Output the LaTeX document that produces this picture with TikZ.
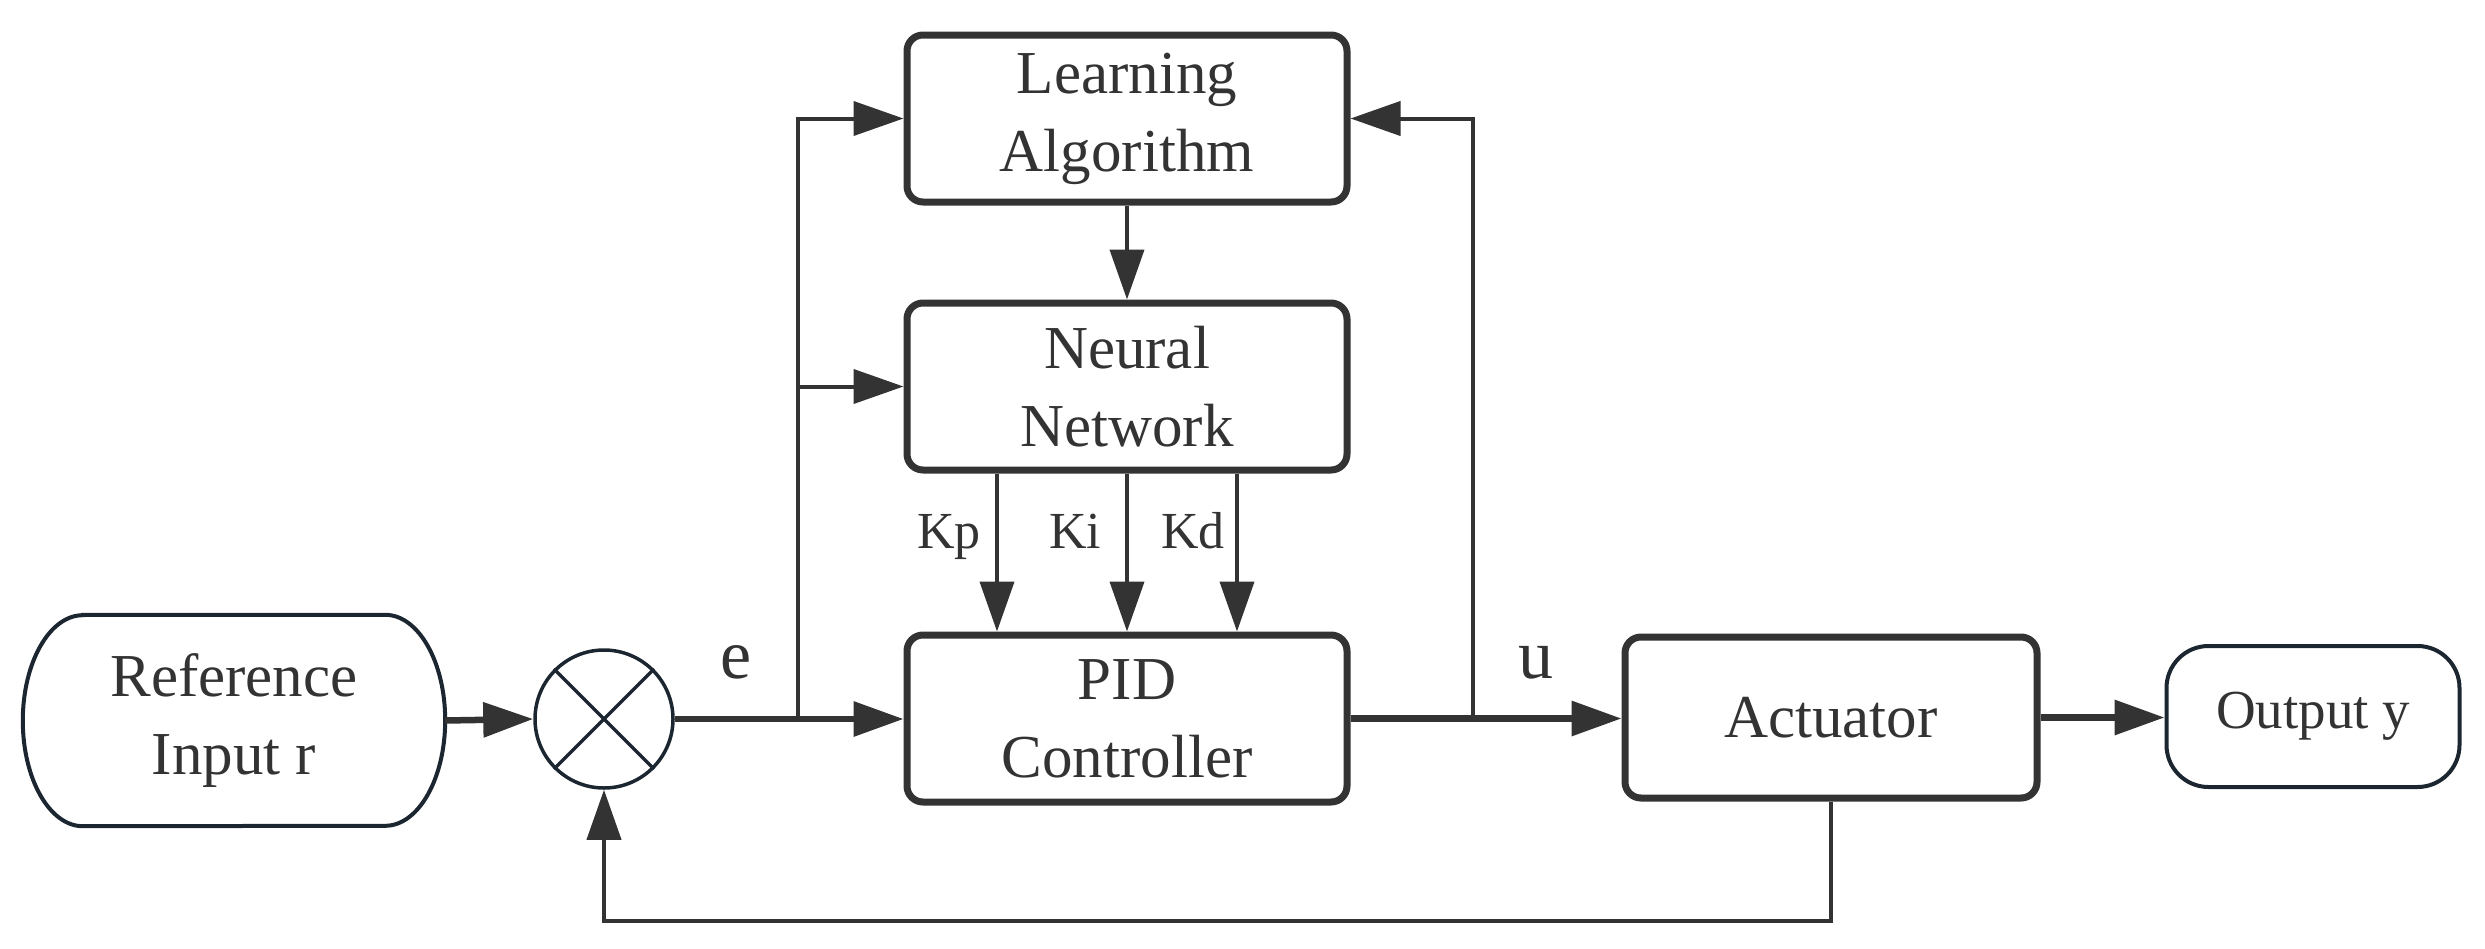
\documentclass[tikz,border=0pt]{standalone}
\usepackage{fontspec}
\setmainfont{Liberation Serif}
\usetikzlibrary{arrows.meta}
\definecolor{ink}{HTML}{333333}
\definecolor{navy}{HTML}{1C2630}
\tikzset{
  blk/.style={draw=ink, line width=7pt, rounded corners=16pt, minimum width=440pt, minimum height=167pt, inner sep=0pt, align=center, text=ink, font=\fontsize{61}{78}\selectfont},
  term/.style={inner sep=0pt, align=center, text=ink},
  thickarrow/.style={draw=ink, line width=6.5pt, -{Triangle[length=50pt,width=34pt]}},
  thinarrow/.style={draw=ink, line width=4pt, -{Triangle[length=50pt,width=34pt]}},
  thinline/.style={draw=ink, line width=4pt},
  gain/.style={text=ink, anchor=base, font=\fontsize{52}{60}\selectfont},
  sig/.style={text=ink, anchor=base, font=\fontsize{70}{80}\selectfont},
}
\begin{document}
\begin{tikzpicture}[x=1pt,y=-1pt]
\useasboundingbox (0,0) rectangle (2485,948);
% reference input (terminal with elliptic sides)
\node[term, minimum width=422pt, minimum height=211pt, font=\fontsize{61}{78}\selectfont] (ref) at (234,720.5) {Reference\\Input r};
\draw[navy, line width=4pt] ([xshift=60pt]ref.north west) -- ([xshift=-60pt]ref.north east)
  arc[start angle=90, end angle=-90, x radius=60pt, y radius=105.5pt]
  -- ([xshift=60pt]ref.south west)
  arc[start angle=270, end angle=90, x radius=60pt, y radius=105.5pt] -- cycle;
% summing junction
\node[circle, draw=navy, line width=3.5pt, minimum size=138pt, inner sep=0pt] (sum) at (604,719) {};
\draw[navy, line width=3.5pt] (sum.45) -- (sum.225) (sum.135) -- (sum.-45);
% blocks
\node[blk] (learn) at (1127,118.5) {Learning\\Algorithm};
\node[blk] (neural) at (1127,386.5) {Neural\\Network};
\node[blk] (pid) at (1127,718.5) {PID\\Controller};
\node[blk, minimum width=412pt, minimum height=161pt] (act) at (1831,717.5) {Actuator};
\node[term, draw=navy, line width=4pt, rounded corners=42pt, minimum width=293pt, minimum height=141pt, font=\fontsize{55}{66}\selectfont] (out) at (2313,716.5) {Output y};
% main path
\draw[thickarrow] (ref.east) -- (sum.west);
\draw[thickarrow] (sum.east) -- (sum.east -| pid.west);
\draw[thickarrow] (pid.east) -- (pid.east -| act.west);
\draw[thickarrow] (act.east) -- (act.east -| out.west);
% error branch
\coordinate (eb) at (798,719);
\draw[thinarrow] (eb) |- (learn.west);
\draw[thinarrow] (eb |- neural.west) -- (neural.west);
% control branch
\coordinate (ub) at (1473,718.5);
\draw[thinarrow] (ub) |- (learn.east);
% learning to network
\draw[thinarrow] (learn.south) -- (neural.north);
% gains
\draw[thinarrow] ([xshift=-130pt]neural.south) -- ([xshift=-130pt]pid.north);
\draw[thinarrow] (neural.south) -- (pid.north);
\draw[thinarrow] ([xshift=110pt]neural.south) -- ([xshift=110pt]pid.north);
\node[gain] (kp) at (949,548) {Kp};
\node[gain] (ki) at (1075,548) {Ki};
\node[gain] (kd) at (1193,548) {Kd};
% signal labels
\node[sig] (e) at (736,678) {e};
\node[sig] (u) at (1536,678) {u};
% feedback
\coordinate (fb) at (1831,921);
\draw[thinarrow] (act.south) -- (fb) -| (sum.south);
\end{tikzpicture}
\end{document}
